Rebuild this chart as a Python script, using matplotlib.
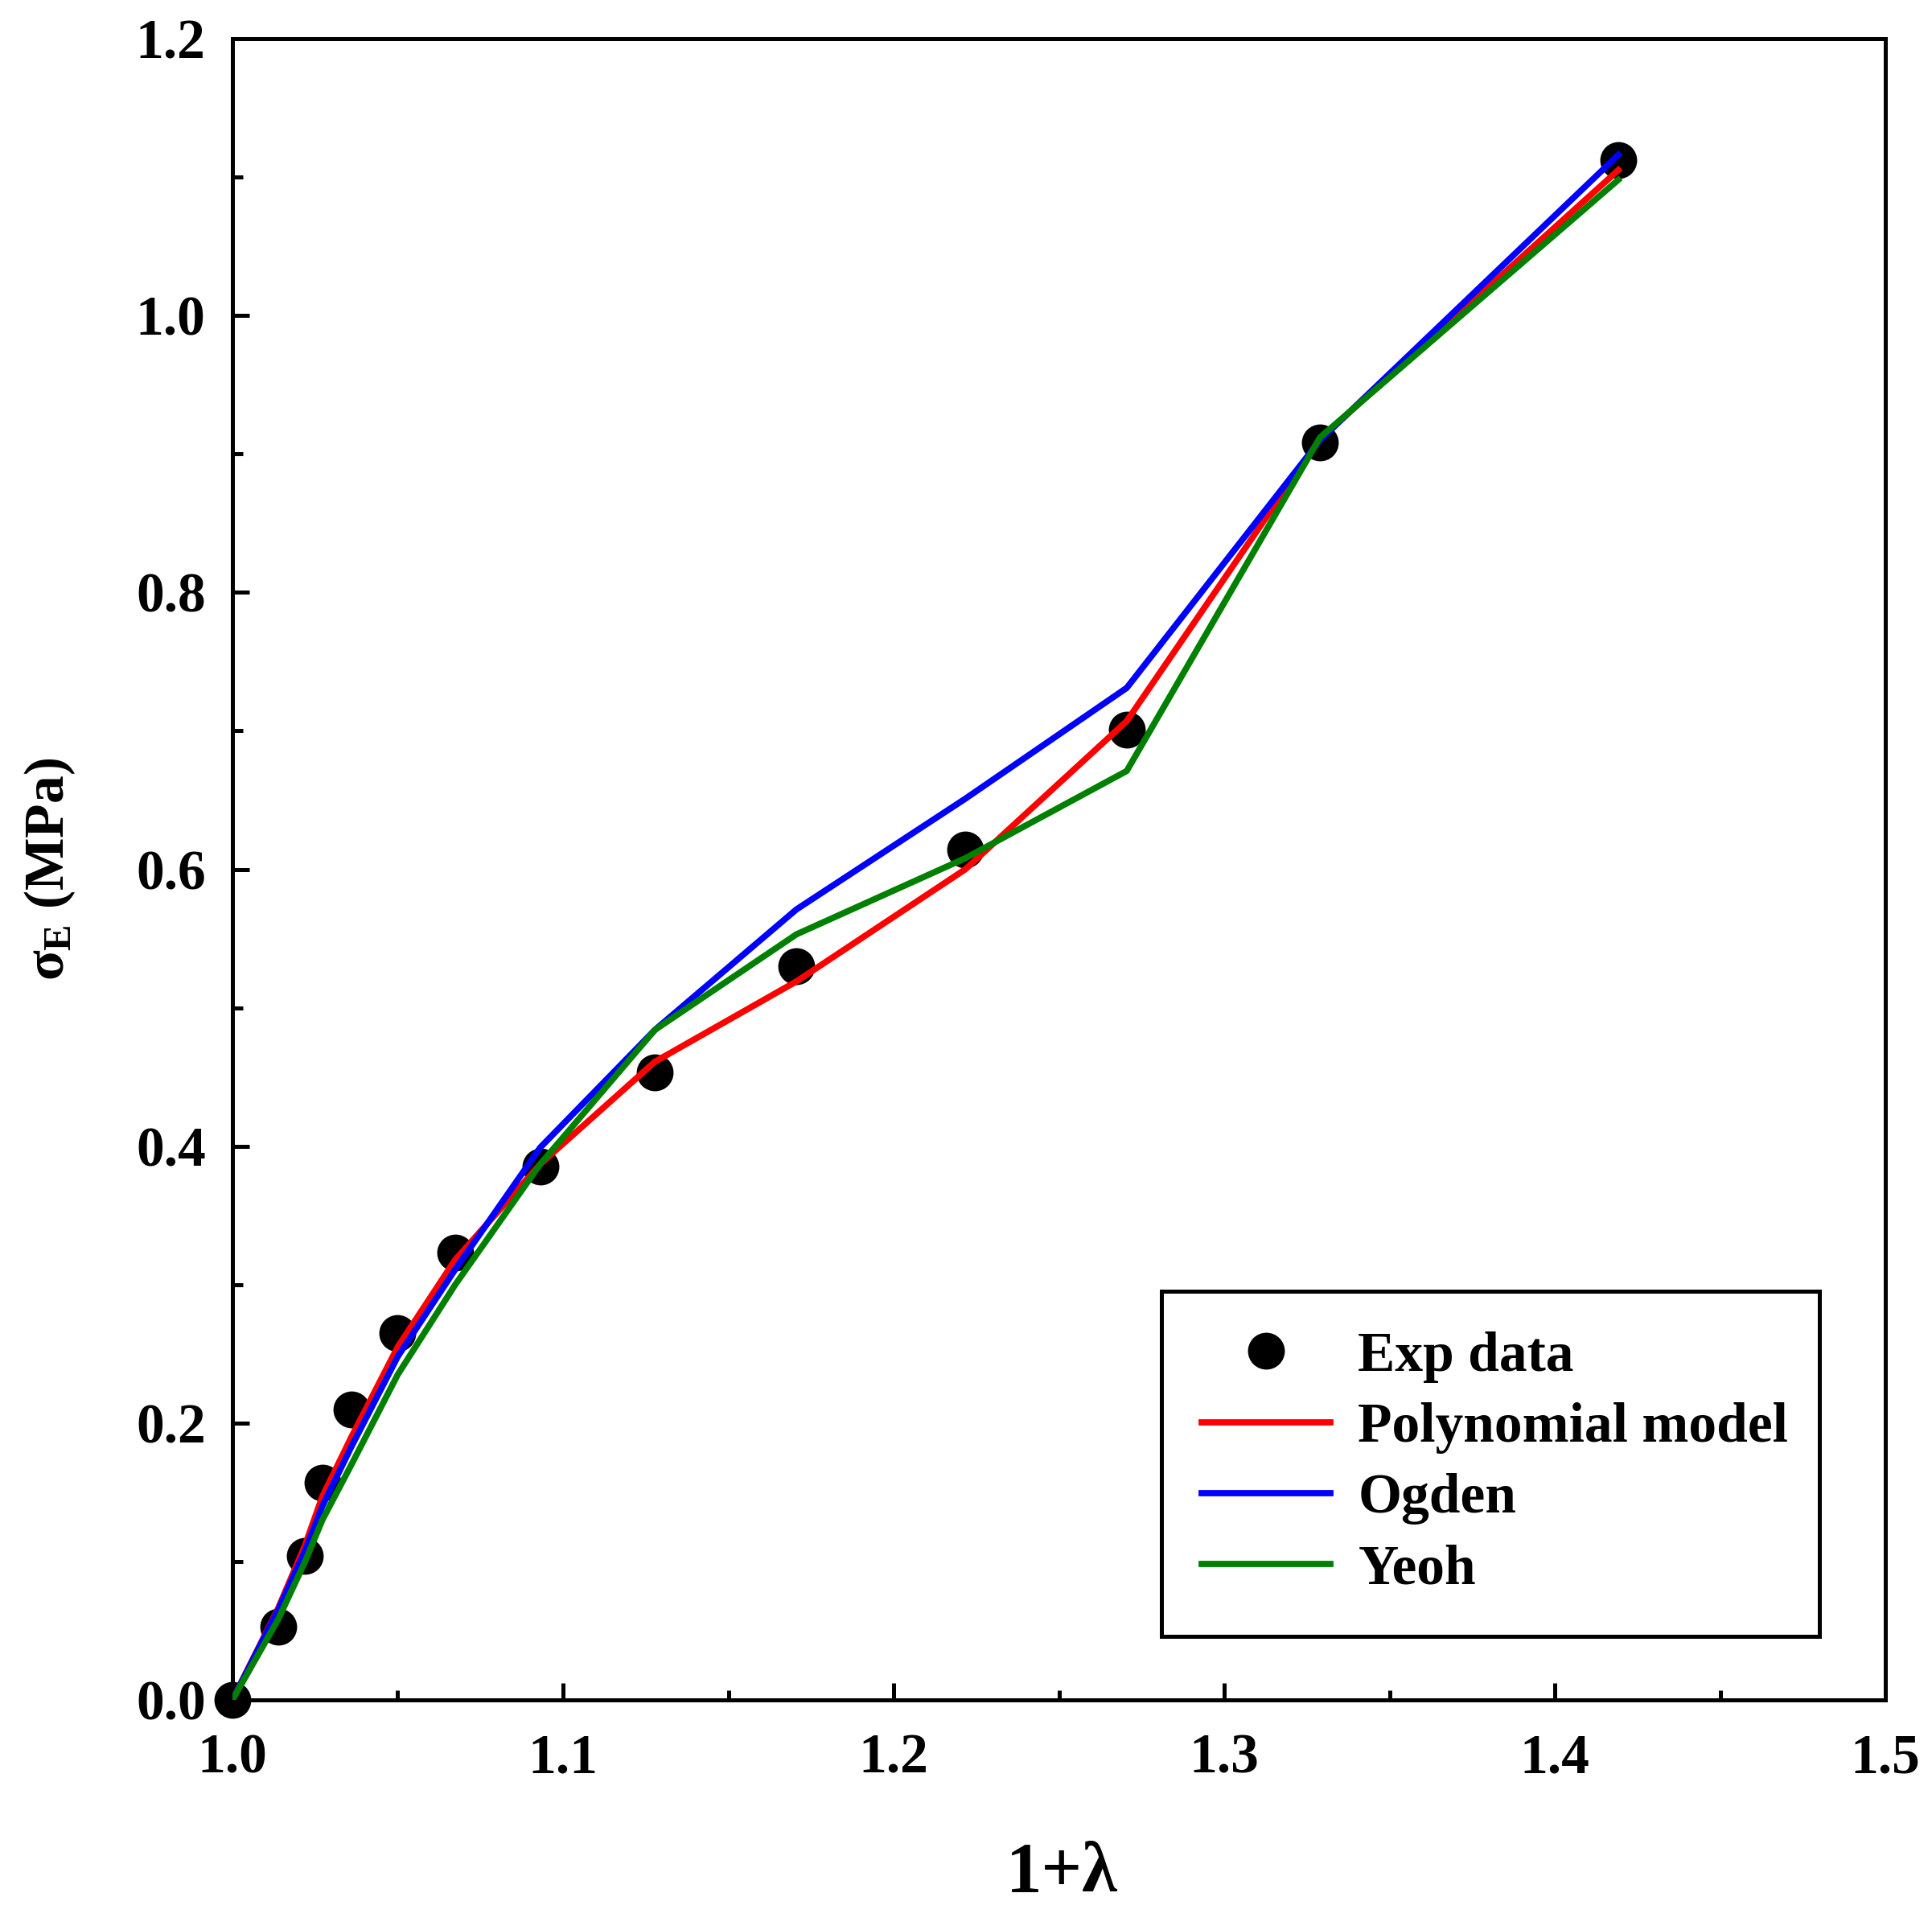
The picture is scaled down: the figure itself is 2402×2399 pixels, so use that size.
import numpy as np
import matplotlib
matplotlib.use("Agg")
import matplotlib.pyplot as plt
from matplotlib.ticker import MultipleLocator, FormatStrFormatter

# ---------------------------------------------------------------
# data
# ---------------------------------------------------------------
stretch = [1.0, 1.0138, 1.022, 1.0272, 1.036, 1.050, 1.0674, 1.0931,
           1.1278, 1.1706, 1.2217, 1.2705, 1.329, 1.4192]
exp_stress = [0.0, 0.053, 0.104, 0.157, 0.210, 0.265, 0.323, 0.385,
              0.453, 0.530, 0.614, 0.701, 0.908, 1.112]
poly_stress = [0.0, 0.066, 0.112, 0.147, 0.190, 0.255, 0.318, 0.387,
               0.461, 0.519, 0.600, 0.707, 0.911, 1.105]
ogden_stress = [0.0, 0.065, 0.108, 0.140, 0.183, 0.248, 0.311, 0.399,
                0.484, 0.571, 0.651, 0.731, 0.910, 1.116]
yeoh_stress = [0.0, 0.058, 0.100, 0.130, 0.170, 0.235, 0.300, 0.387,
               0.484, 0.553, 0.608, 0.671, 0.912, 1.098]

# ---------------------------------------------------------------
# style
# ---------------------------------------------------------------
plt.rcParams['font.family'] = ['Liberation Serif', 'DejaVu Serif']
plt.rcParams['font.weight'] = 'bold'
plt.rcParams['mathtext.fontset'] = 'custom'
plt.rcParams['mathtext.rm'] = 'Liberation Serif:bold'
plt.rcParams['mathtext.it'] = 'Liberation Serif:bold'
plt.rcParams['mathtext.bf'] = 'Liberation Serif:bold'

fig = plt.figure(figsize=(12.01, 11.995), dpi=200)
ax = fig.add_axes([0.1203, 0.1192, 0.8556, 0.8608])

ax.plot(stretch, exp_stress, 'o', color='black', markersize=15.5,
        label='Exp data', zorder=2, clip_on=False)
ax.plot(stretch, poly_stress, color='#ff0000', lw=2.8, label='Polynomial model', zorder=3)
ax.plot(stretch, ogden_stress, color='#0000ff', lw=2.8, label='Ogden', zorder=3)
ax.plot(stretch, yeoh_stress, color='#008000', lw=2.8, label='Yeoh', zorder=3)

ax.set_xlim(1.0, 1.5)
ax.set_ylim(0.0, 1.2)
ax.xaxis.set_major_locator(MultipleLocator(0.1))
ax.xaxis.set_minor_locator(MultipleLocator(0.05))
ax.yaxis.set_major_locator(MultipleLocator(0.2))
ax.yaxis.set_minor_locator(MultipleLocator(0.1))
ax.xaxis.set_major_formatter(FormatStrFormatter('%.1f'))
ax.yaxis.set_major_formatter(FormatStrFormatter('%.1f'))

for sp in ax.spines.values():
    sp.set_linewidth(1.8)
ax.tick_params(which='both', direction='in', top=False, right=False, width=1.8)
ax.tick_params(which='major', length=7.5)
ax.tick_params(which='minor', length=4.5)
ax.tick_params(axis='x', which='major', pad=15, labelsize=25)
ax.tick_params(axis='y', which='major', pad=12, labelsize=25)

ax.set_xlabel('1+λ', fontsize=32, fontweight='bold')
ax.set_ylabel(r'$\sigma_{E}$ (MPa)', fontsize=25, fontweight='bold')
ax.xaxis.set_label_coords(0.502, -0.085)
ax.yaxis.set_label_coords(-0.094, 0.5)

leg = ax.legend(loc='lower left', bbox_to_anchor=(0.562, 0.0385, 0.398, 0.209),
                mode='expand', fontsize=25, frameon=True, fancybox=False,
                framealpha=1.0, borderpad=0.72, labelspacing=0.35,
                handlelength=2.3, handletextpad=0.5, borderaxespad=0.0)
leg.get_frame().set_edgecolor('black')
leg.get_frame().set_linewidth(1.8)
for t in leg.get_texts():
    t.set_fontweight('bold')

fig.savefig('out.png', dpi=200)
